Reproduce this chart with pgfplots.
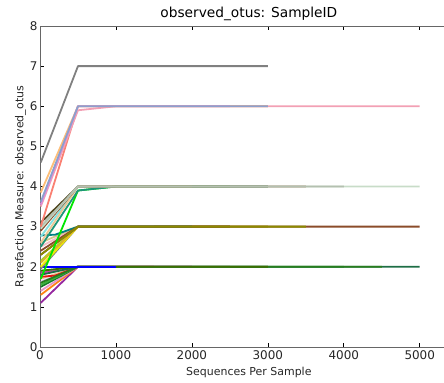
\documentclass[border=0pt]{standalone}
\usepackage{pgfplots}
\pgfplotsset{compat=1.18}
\usepackage{fontspec}
\setmainfont{DejaVu Sans}
\definecolor{cgray}{RGB}{128,128,128}
\definecolor{cbluegray}{RGB}{140,160,205}
\definecolor{cpink}{RGB}{242,160,180}
\definecolor{corange}{RGB}{253,190,120}
\definecolor{csalmon}{RGB}{250,128,114}
\definecolor{cviolet}{RGB}{220,140,220}
\definecolor{csage}{RGB}{180,192,176}
\definecolor{csagel}{RGB}{200,220,200}
\definecolor{cdolive}{RGB}{80,70,30}
\definecolor{cbrown}{RGB}{139,76,42}
\definecolor{clcyan}{RGB}{130,225,225}
\definecolor{clime}{RGB}{0,230,0}
\definecolor{cteal}{RGB}{30,150,120}
\definecolor{ctan}{RGB}{235,200,150}
\definecolor{colive}{RGB}{139,139,0}
\definecolor{cyellow}{RGB}{240,240,0}
\definecolor{cygreen}{RGB}{170,210,40}
\definecolor{cgold}{RGB}{220,180,40}
\definecolor{clpink}{RGB}{245,190,200}
\definecolor{ckhaki}{RGB}{210,200,140}
\definecolor{cteal2}{RGB}{0,128,128}
\definecolor{cpurple}{RGB}{150,40,160}
\definecolor{corg2}{RGB}{255,130,20}
\definecolor{cpink2}{RGB}{230,150,200}
\definecolor{cdgreen}{RGB}{20,120,40}
\definecolor{cgreen}{RGB}{60,180,60}
\definecolor{cred}{RGB}{230,20,20}
\definecolor{clav}{RGB}{190,170,220}
\definecolor{cmag}{RGB}{200,60,160}
\definecolor{clblue}{RGB}{150,200,230}
\definecolor{cblue}{RGB}{0,0,255}
\definecolor{cfgreen}{RGB}{60,110,0}
\definecolor{cfgreen2}{RGB}{40,125,30}
\definecolor{cfgreen3}{RGB}{30,110,70}
\begin{document}
\begin{tikzpicture}
\useasboundingbox (0,0) rectangle (444bp,383bp);
\begin{axis}[
  at={(40bp,36bp)}, anchor=south west,
  scale only axis, width=417.7bp, height=321bp,
  xmin=0, xmax=5500, ymin=0, ymax=8,
  xtick={0,1000,2000,3000,4000,5000}, ytick={0,1,2,3,4,5,6,7,8},
  scaled ticks=false,
  /pgf/number format/1000 sep={},
  /pgf/number format/assume math mode=true,
  tick align=inside, major tick length=4bp,
  tick style={black, line width=0.6bp},
  axis line style={black!60, line width=1bp},
  ticklabel style={font=\fontsize{12}{14}\selectfont, text=black!85},
  xticklabel style={yshift=0bp},
  yticklabel style={xshift=1bp},
  title={observed\_otus: SampleID},
  title style={font=\fontsize{13.8}{16}\selectfont, at={(0.5,1)}, anchor=south, yshift=-4bp},
  xlabel={Sequences Per Sample},
  ylabel={Rarefaction Measure: observed\_otus},
  label style={font=\fontsize{11}{13}\selectfont, text=black!85},
  xlabel style={yshift=-1bp},
  ylabel style={yshift=-3bp},
  every axis plot/.append style={line width=1.8bp, line join=round},
]
% level 2
\addplot[cpurple] coordinates {(10,1.1)(500,2)(1000,2)(2000,2)};
\addplot[corg2] coordinates {(10,1.3)(500,2)(1000,2)(2500,2)};
\addplot[cpink2] coordinates {(10,1.4)(500,2)(1000,2)(3000,2)};
\addplot[cdgreen] coordinates {(10,1.5)(500,2)(1000,2)(3000,2)};
\addplot[clav] coordinates {(10,1.62)(500,2)(1000,2)(2000,2)};
\addplot[cgreen] coordinates {(10,1.55)(500,2)(1000,2)(4000,2)};
\addplot[ctan] coordinates {(10,1.7)(500,2)(1000,2)(2000,2)};
\addplot[cred] coordinates {(10,1.75)(200,1.78)(500,2)(1000,2)(1500,2)};
\addplot[cmag] coordinates {(10,1.85)(500,2)(1000,2)(2000,2)};
\addplot[clblue] coordinates {(10,1.9)(500,2)(1000,2)(2500,2)};
\addplot[cfgreen3] coordinates {(10,1.8)(500,2)(1000,2)(5000,2)};
\addplot[cfgreen2] coordinates {(10,1.6)(500,2)(1000,2)(4500,2)};
\addplot[cfgreen] coordinates {(10,1.9)(500,2)(1000,2)(3000,2)};
\addplot[cblue] coordinates {(10,2)(500,2)(1000,2)};
% level 3
\addplot[cgray] coordinates {(10,1.95)(500,3)(1000,3)(2500,3)};
\addplot[cyellow] coordinates {(10,2.0)(500,3)(1000,3)(2000,3)};
\addplot[cygreen] coordinates {(10,2.15)(500,3)(1000,3)(2500,3)};
\addplot[cgold] coordinates {(10,2.1)(500,3)(1000,3)(3000,3)};
\addplot[clpink] coordinates {(10,2.5)(500,3)(1000,3)(2000,3)};
\addplot[ckhaki] coordinates {(10,2.6)(500,3)(1000,3)(3000,3)};
\addplot[white!90!yellow] coordinates {(10,2.85)(500,3)(1000,3)(1500,3)};
\addplot[cbrown!80!black] coordinates {(10,2.3)(500,3)(1000,3)(2500,3)};
\addplot[cteal2] coordinates {(10,2.78)(200,2.8)(500,3)(1000,3)(2000,3)};
\addplot[cbrown] coordinates {(10,2.4)(500,3)(1000,3)(5000,3)};
\addplot[colive] coordinates {(10,2.3)(500,3)(1000,3)(3500,3)};
% level 4
\addplot[clime] coordinates {(10,1.7)(500,3.9)(1000,4)(2500,4)};
\addplot[cteal] coordinates {(10,2.5)(500,3.9)(1000,4)(3000,4)};
\addplot[clcyan] coordinates {(10,2.75)(500,4)(1000,4)(3000,4)};
\addplot[ctan] coordinates {(10,2.6)(500,4)(1000,4)(2000,4)};
\addplot[cbrown] coordinates {(10,2.9)(500,4)(1000,4)(3500,4)};
\addplot[cdolive] coordinates {(10,3.1)(500,4)(1000,4)(3000,4)};
\addplot[csagel] coordinates {(10,2.95)(500,4)(1000,4)(5000,4)};
\addplot[csage] coordinates {(10,3.0)(500,4)(1000,4)(4000,4)};
% level 6
\addplot[csalmon] coordinates {(10,3.0)(500,6)(1000,6)(3000,6)};
\addplot[cpink] coordinates {(10,3.5)(500,5.9)(1000,6)(5000,6)};
\addplot[corange] coordinates {(10,3.85)(500,6)(1000,6)(3000,6)};
\addplot[cviolet] coordinates {(10,3.55)(500,6)(1000,6)(2500,6)};
\addplot[cbluegray] coordinates {(10,3.62)(500,6)(1000,6)(3000,6)};
% level 7
\addplot[cgray] coordinates {(10,4.6)(500,7)(1000,7)(3000,7)};
\end{axis}
\end{tikzpicture}
\end{document}
